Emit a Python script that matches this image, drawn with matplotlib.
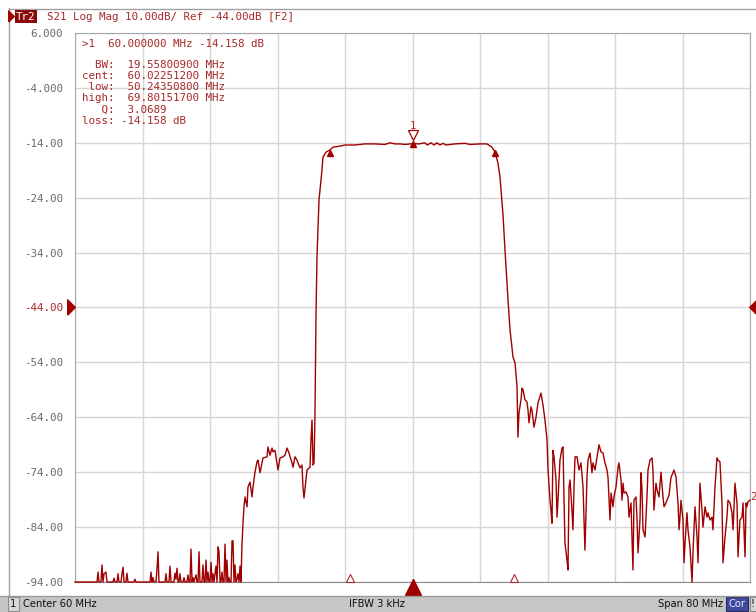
import matplotlib
matplotlib.use("Agg")
import matplotlib.pyplot as plt
import matplotlib.transforms as mtransforms
from matplotlib.lines import Line2D
from matplotlib.patches import Rectangle
from matplotlib.path import Path
import numpy as np

# ---------------- data ----------------
low_f = [20.00, 21.78, 22.61, 22.73, 22.84, 23.08, 23.20, 23.32, 23.44, 23.67, 23.79, 24.50, 24.62, 24.74,
         24.98, 25.10, 25.21, 25.45, 25.57, 25.69, 25.81, 26.04, 26.16, 26.28, 26.99, 27.11, 27.23, 28.89,
         29.01, 29.13, 29.24, 29.36, 29.60, 29.72, 29.84, 29.95, 30.67, 30.79, 30.90, 31.14, 31.26, 31.38,
         31.73, 31.85, 31.97, 32.09, 32.21, 32.33, 32.44, 32.56, 32.80, 32.92, 33.04, 33.27, 33.39, 33.51,
         33.63, 33.75, 33.87, 33.99, 34.10, 34.34, 34.46, 34.58, 34.70, 34.81, 35.05, 35.17, 35.29, 35.41,
         35.53, 35.64, 35.76, 35.88, 36.00, 36.12, 36.24, 36.36, 36.47, 36.71, 36.83, 36.95, 37.07, 37.19,
         37.30, 37.42, 37.54, 37.66, 37.78, 37.90, 38.01, 38.13, 38.25, 38.37, 38.49, 38.61, 38.73, 38.84,
         38.96, 39.08, 39.20, 39.32, 39.44, 39.56, 39.67, 39.79]
low_db = [-94, -94, -94, -92.2, -94, -94, -90.9, -94, -92.5, -92.2, -94, -94, -93.3, -94,
          -94, -92.5, -94, -94, -92.5, -91.3, -94, -94, -92.4, -94, -94, -93.5, -94, -94,
          -92.2, -94, -93.2, -94, -94, -91.5, -88.5, -94, -94, -92.5, -94, -94, -91.1, -94,
          -94, -92.4, -93.5, -91.5, -94, -94, -92.5, -94, -94, -93.2, -94, -94, -92.7, -94,
          -94, -88.0, -94, -93.2, -94, -92.7, -94, -94, -88.5, -94, -94, -90.9, -94, -94,
          -90.0, -94, -92.2, -94, -94, -90.4, -94, -92.5, -94, -91.1, -94, -87.6, -88.5, -94,
          -94, -92.2, -94, -94, -87.1, -94, -90.0, -94, -93.2, -94, -94, -86.5, -86.5, -94,
          -90.9, -94, -93.5, -92.5, -94, -91.1, -94, -87.2]

skirt_f = [39.91, 40.03, 40.15, 40.39, 40.50, 40.74, 40.98, 41.10, 41.33, 41.57, 41.69, 41.93, 42.16, 42.28,
           42.76, 42.87, 43.11, 43.35, 43.47, 43.70, 44.06, 44.30, 44.65, 44.89, 45.13, 45.36, 45.72, 45.84,
           46.07, 46.31, 46.43, 46.67, 46.90, 47.02, 47.14, 47.38, 47.50, 47.85, 47.97, 48.09, 48.21, 48.33,
           48.44]
skirt_db = [-83.3, -80.3, -78.5, -80.3, -76.7, -75.8, -78.5, -76.7, -74.0, -72.1, -71.8, -74.1, -72.3, -71.4,
            -71.2, -69.4, -70.9, -69.6, -70.3, -70.0, -73.6, -71.4, -71.2, -70.9, -69.6, -70.5, -72.3, -73.1,
            -71.2, -71.8, -72.3, -73.2, -72.7, -76.7, -78.7, -75.4, -73.6, -73.1, -68.1, -64.5, -72.7, -72.3,
            -63.9]

band_f = [48.56, 48.68, 48.92, 49.27, 49.39, 49.75, 50.22, 50.58, 51.41, 52.00, 53.19, 54.37, 55.56, 56.74,
          57.33, 57.93, 58.52, 59.11, 60.00, 60.83, 61.42, 61.78, 62.19, 62.55, 62.90, 63.26, 63.62, 63.97,
          65.04, 66.22, 66.81, 68.00, 68.83, 69.42, 69.78, 70.13, 70.37, 70.73, 70.96, 71.32, 71.56, 71.91,
          72.15, 72.39, 72.44, 72.50, 72.62, 72.86, 72.98, 73.10, 73.33, 73.57, 73.69, 73.81, 74.04, 74.16,
          74.40, 74.64, 74.87, 75.23, 75.47, 75.70, 75.94]
band_db = [-45.7, -34.8, -24.4, -19.0, -16.6, -15.7, -15.3, -14.8, -14.6, -14.4, -14.4, -14.2, -14.2, -14.3,
           -14.0, -14.2, -14.2, -14.3, -14.16, -14.2, -14.0, -14.4, -14.0, -14.4, -14.0, -14.4, -14.1, -14.4,
           -14.2, -14.1, -14.3, -14.2, -14.2, -14.8, -15.7, -17.7, -20.2, -27.2, -33.5, -42.6, -48.1, -53.0,
           -54.1, -58.5, -62.7, -67.6, -63.2, -60.8, -58.7, -59.0, -60.8, -61.2, -62.7, -65.0, -62.1, -62.7,
           -65.8, -64.0, -61.4, -59.6, -61.8, -64.5, -68.1]

high_f = [76.06, 76.30, 76.41, 76.53, 76.65, 76.77, 77.01, 77.13, 77.24, 77.48, 77.72, 77.84, 77.96, 78.07,
          78.31, 78.43, 78.55, 78.67, 78.90, 79.02, 79.14, 79.26, 79.50, 79.73, 79.97, 80.21, 80.33, 80.44,
          80.68, 80.80, 81.04, 81.27, 81.39, 81.63, 81.87, 82.10, 82.34, 82.58, 82.81, 83.05, 83.17, 83.41,
          83.53, 83.76, 83.88, 84.12, 84.36, 84.47, 84.71, 84.83, 84.95, 85.07, 85.30, 85.54, 85.66, 85.90,
          86.01, 86.13, 86.25, 86.49, 86.61, 86.73, 86.96, 87.08, 87.20, 87.32, 87.56, 87.79, 87.91, 88.15,
          88.39, 88.50, 88.62, 88.86, 88.98, 89.21, 89.45, 89.69, 89.81, 90.04, 90.16, 90.40, 90.64, 90.87,
          90.99, 91.23, 91.47, 91.59, 91.70, 91.82, 92.06, 92.18, 92.30, 92.53, 92.65, 92.89, 93.13, 93.24,
          93.48, 93.72, 93.84, 94.07, 94.31, 94.43, 94.67, 94.90, 95.02, 95.26, 95.50, 95.61, 95.85, 96.09,
          96.21, 96.44, 96.68, 96.80, 97.04, 97.27, 97.39, 97.63, 97.87, 97.99, 98.22, 98.46, 98.58, 98.81,
          99.05, 99.17, 99.41, 99.53, 99.64, 99.76, 100.00]
high_db = [-73.6, -79.1, -80.9, -83.3, -70.0, -71.2, -75.4, -82.2, -79.1, -71.8, -69.6, -69.4, -79.1, -86.9,
           -90.0, -91.8, -76.7, -75.4, -80.9, -84.5, -76.7, -71.2, -71.2, -73.6, -72.3, -76.7, -82.7, -88.2,
           -74.9, -71.8, -70.5, -74.1, -72.3, -73.6, -71.2, -69.0, -70.3, -70.5, -72.3, -73.6, -74.9, -82.7,
           -77.8, -80.3, -78.5, -76.7, -73.1, -72.3, -75.4, -79.1, -76.0, -77.8, -77.6, -78.5, -82.2, -79.6,
           -85.8, -91.8, -79.1, -78.5, -82.7, -88.7, -82.7, -74.1, -77.2, -84.5, -85.8, -78.5, -73.6, -71.8,
           -71.4, -73.6, -80.9, -76.0, -77.2, -78.5, -74.0, -78.5, -80.3, -79.6, -79.1, -78.2, -74.9, -74.1,
           -73.6, -74.9, -79.6, -84.5, -82.2, -79.1, -82.7, -90.5, -86.9, -81.4, -84.5, -87.6, -94.0, -88.7,
           -80.3, -85.8, -90.5, -76.0, -80.9, -84.0, -80.3, -82.2, -81.4, -82.7, -82.2, -84.5, -76.7, -71.4,
           -71.8, -72.1, -79.6, -90.5, -85.8, -82.2, -79.1, -79.6, -81.4, -84.5, -76.0, -79.6, -89.4, -82.7,
           -82.2, -79.6, -89.4, -79.6, -80.3, -79.4, -79.1]

y_ticks = [6, -4, -14, -24, -34, -44, -54, -64, -74, -84, -94]
y_tick_labels = ["6.000", "-4.000", "-14.00", "-24.00", "-34.00", "-44.00",
                 "-54.00", "-64.00", "-74.00", "-84.00", "-94.00"]
x_grid = [20, 28, 36, 44, 52, 60, 68, 76, 84, 92, 100]
ref_level = -44.0

marker1_f, marker1_db = 60.0, -14.158
bw_low_f, bw_high_f, bw_marker_db = 50.2435, 69.8015, -15.9
stim_markers_f = [52.59, 72.03]

header_text = "S21 Log Mag 10.00dB/ Ref -44.00dB [F2]"
readout_top = ">1  60.000000 MHz -14.158 dB"
readout_lines = ["  BW:  19.55800900 MHz",
                 "cent:  60.02251200 MHz",
                 " low:  50.24350800 MHz",
                 "high:  69.80151700 MHz",
                 "   Q:  3.0689",
                 "loss: -14.158 dB"]

# ---------------- styling ----------------
W, H = 756, 612
TRACE = "#a00000"
TXTRED = "#a82828"
GRID = "#d6d6d6"
MONO = "DejaVu Sans Mono"

def fx(px):
    return px / W

def fy(py):
    return 1 - py / H

fig = plt.figure(figsize=(W / 100, H / 100), dpi=100)
fig.patch.set_facecolor("white")

ax = fig.add_axes([fx(75), fy(582), 675 / W, 549 / H])
ax.set_xlim(20, 100)
ax.set_ylim(-94, 6)
ax.set_xticks(x_grid)
ax.set_yticks(y_ticks)
ax.set_yticklabels(y_tick_labels, family=MONO, fontsize=7.8)
for lbl, v in zip(ax.get_yticklabels(), y_ticks):
    lbl.set_color(TXTRED if v == ref_level else "#6a6a6a")
ax.tick_params(axis="both", length=0, labelbottom=False, pad=8.5)
ax.grid(True, color=GRID, lw=1.0)
ax.set_axisbelow(True)
for s in ["left", "top", "right"]:
    ax.spines[s].set_color("#a8a8a8")
ax.spines["bottom"].set_color("#8a8a8a")

# trace
freq = low_f + skirt_f + band_f + high_f
s21 = low_db + skirt_db + band_db + high_db
ax.plot(freq, s21, color=TRACE, lw=1.0, clip_on=False, zorder=3)

# marker 1
def off(dy):
    return mtransforms.offset_copy(ax.transData, fig=fig, x=0, y=dy, units="dots")

ax.plot([marker1_f], [marker1_db], marker="^", ms=4.5, color=TRACE, zorder=5)
ax.plot([marker1_f], [marker1_db], marker="v", ms=6.5, mfc="white", mec=TRACE, mew=0.9,
        transform=off(9), zorder=5)
ax.text(marker1_f, marker1_db, "1", transform=off(18), color=TXTRED, ha="center", va="center",
        family=MONO, fontsize=7.5, zorder=5)
# BW markers
ax.plot([bw_low_f, bw_high_f], [bw_marker_db, bw_marker_db], ls="none", marker="^", ms=4.5,
        color=TRACE, zorder=5)
# stimulus markers at bottom
ax.plot(stim_markers_f, [-94, -94], ls="none", marker="^", ms=6, mfc="white", mec=TXTRED,
        mew=0.8, transform=off(4), clip_on=False, zorder=5)
ax.plot([marker1_f], [-94], marker="^", ms=11, color=TRACE, transform=off(-5),
        clip_on=False, zorder=6)

# reference level arrows
tri_r = Path([(-0.5, -1), (0.5, 0), (-0.5, 1), (-0.5, -1)], closed=False)
tri_l = Path([(0.5, -1), (-0.5, 0), (0.5, 1), (0.5, -1)], closed=False)
ref_y_fig = fy(582) + (ref_level + 94) / 100 * 549 / H
fig.add_artist(Line2D([fx(71)], [ref_y_fig], marker=tri_r, ms=11, color=TRACE,
                      transform=fig.transFigure))
fig.add_artist(Line2D([fx(753)], [ref_y_fig], marker=tri_l, ms=11, color=TRACE,
                      transform=fig.transFigure))

# marker readout
fig.text(fx(82), fy(44), readout_top, family=MONO, fontsize=7.8, color=TXTRED, va="center")
for i, line in enumerate(readout_lines):
    fig.text(fx(82), fy(65 + 11.1 * i), line, family=MONO, fontsize=7.8, color=TXTRED,
             va="center")

# trace 2 marker label at right edge
fig.text(fx(750), fy(497), "2", family=MONO, fontsize=7.8, color=TXTRED, va="center")

# frame lines
fig.add_artist(Line2D([fx(8.5), fx(8.5)], [fy(8), fy(596)], color="#a0a0a0", lw=1,
                      transform=fig.transFigure))
fig.add_artist(Line2D([fx(8.5), 1], [fy(8.5), fy(8.5)], color="#a0a0a0", lw=1,
                      transform=fig.transFigure))

# header
fig.add_artist(Line2D([fx(11)], [fy(16)], marker=tri_r, ms=8, color=TRACE,
                      transform=fig.transFigure))
fig.text(fx(16), fy(16.5), "Tr2", family=MONO, fontsize=7.8, color="white", va="center",
         bbox=dict(facecolor="#8b0a0a", edgecolor="none", pad=1.0))
fig.text(fx(47), fy(16.5), header_text, family=MONO, fontsize=7.8, color=TXTRED, va="center")

# status bar
fig.add_artist(Rectangle((0, 0), 1, 16.5 / H, transform=fig.transFigure,
                         facecolor="#c6c6c6", edgecolor="none"))
fig.add_artist(Line2D([0, 1], [fy(595.5), fy(595.5)], color="#9a9a9a", lw=1,
                      transform=fig.transFigure))
fig.add_artist(Rectangle((fx(8), fy(611)), 11 / W, 14 / H, transform=fig.transFigure,
                         facecolor="#d8d8d8", edgecolor="#8a8a8a", lw=0.8))
SB = dict(family="DejaVu Sans", fontsize=7.2, color="#101010", va="center")
fig.text(fx(13.5), fy(604), "1", ha="center", **SB)
fig.text(fx(23), fy(604), "Center 60 MHz", ha="left", **SB)
fig.text(fx(377), fy(604), "IFBW 3 kHz", ha="center", **SB)
fig.text(fx(723), fy(604), "Span 80 MHz", ha="right", **SB)
fig.add_artist(Rectangle((fx(726), fy(611)), 22 / W, 14 / H, transform=fig.transFigure,
                         facecolor="#3f4a9c", edgecolor="#2a2a60", lw=0.8))
fig.text(fx(737), fy(604), "Cor", ha="center", family="DejaVu Sans", fontsize=7.2,
         color="#e8e8ff", va="center")
fig.add_artist(Rectangle((fx(750), fy(611)), 8 / W, 14 / H, transform=fig.transFigure,
                         facecolor="#d8d8d8", edgecolor="#8a8a8a", lw=0.8))
fig.text(fx(753), fy(604), "!", ha="center", **SB)

fig.savefig("out.png", dpi=100, facecolor="white")
